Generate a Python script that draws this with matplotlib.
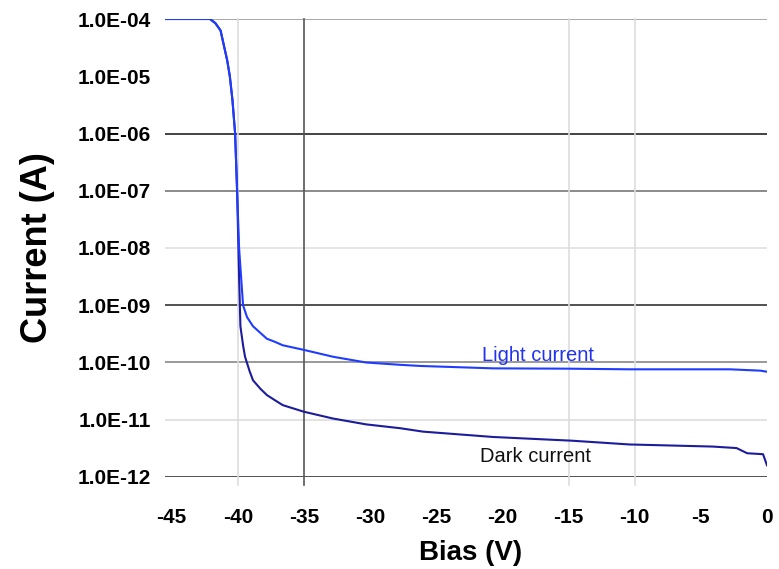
import matplotlib.pyplot as plt
import numpy as np

plt.rcParams['font.family'] = ['Liberation Sans', 'DejaVu Sans']

# Light current (bright blue curve)
light_bias = [-45.5, -42.1, -41.7, -41.3, -40.8, -40.6, -40.4, -40.2, -40.05, -39.9, -39.6,
              -39.3, -38.85, -38.3, -37.8, -37.2, -36.6, -35.0, -32.8, -30.3, -27.7, -26.2,
              -20.7, -15.0, -10.4, -2.8, -0.5, 0.0]
light_current = [1.0e-4, 1.0e-4, 8.5e-5, 6.3e-5, 1.9e-5, 1.0e-5, 3.8e-6, 1.0e-6, 1.0e-7, 1.0e-8, 1.0e-9,
                 6.2e-10, 4.3e-10, 3.3e-10, 2.6e-10, 2.3e-10, 2.0e-10, 1.66e-10, 1.26e-10, 1.0e-10, 9.1e-11, 8.7e-11,
                 7.9e-11, 7.8e-11, 7.6e-11, 7.6e-11, 7.2e-11, 6.9e-11]

# Dark current (navy curve)
dark_bias = [-45.5, -42.1, -41.7, -41.3, -40.8, -40.6, -40.4, -40.2, -40.05, -39.9,
             -39.8, -39.6, -39.45, -39.1, -38.85, -38.3, -37.8, -37.2, -36.6, -35.0,
             -32.8, -30.3, -27.7, -26.0, -20.7, -14.7, -10.4, -4.1, -2.3, -1.5,
             -0.3, 0.0]
dark_current = [1.0e-4, 1.0e-4, 8.5e-5, 6.3e-5, 1.9e-5, 1.0e-5, 3.8e-6, 1.0e-6, 1.0e-7, 3.2e-9,
                4.3e-10, 2.0e-10, 1.26e-10, 7.0e-11, 4.9e-11, 3.5e-11, 2.7e-11, 2.2e-11, 1.8e-11, 1.38e-11,
                1.05e-11, 8.3e-12, 7.1e-12, 6.2e-12, 5.0e-12, 4.3e-12, 3.7e-12, 3.4e-12, 3.2e-12, 2.6e-12,
                2.5e-12, 1.6e-12]

x_ticks = [-45, -40, -35, -30, -25, -20, -15, -10, -5, 0]
y_ticks = [1e-12, 1e-11, 1e-10, 1e-9, 1e-8, 1e-7, 1e-6, 1e-5, 1e-4]
y_tick_labels = ['1.0E-12', '1.0E-11', '1.0E-10', '1.0E-09', '1.0E-08',
                 '1.0E-07', '1.0E-06', '1.0E-05', '1.0E-04']

# gridline shades as they appear in the scan
h_grid_colors = ['#333333', '#dddddd', '#888888', '#333333', '#e0e0e0',
                 '#777777', '#222222', '#ffffff', '#999999']
v_grid = [-40, -35, -15, -10]
v_grid_colors = ['#dddddd', '#555555', '#dddddd', '#dddddd']

fig = plt.figure(figsize=(7.79, 5.69), dpi=100)
ax = fig.add_axes([0.2118, 0.1617, 0.7728, 0.8049])

for yv, c in zip(y_ticks, h_grid_colors):
    ax.axhline(yv, color=c, linewidth=1.2, zorder=1)
for xv, c in zip(v_grid, v_grid_colors):
    ax.axvline(xv, ymin=-0.018, ymax=1, color=c, linewidth=1.2, zorder=1, clip_on=False)

ax.plot(dark_bias, dark_current, color='#1c1c9c', linewidth=1.5, zorder=2)
ax.plot(light_bias, light_current, color='#1f3cff', linewidth=1.5, zorder=3)

ax.set_yscale('log')
ax.set_xlim(-45.5, 0)
ax.set_ylim(1e-12, 1e-4)
ax.set_xticks(x_ticks)
ax.set_xticklabels([str(v) for v in x_ticks])
ax.set_yticks(y_ticks)
ax.set_yticklabels(y_tick_labels)
ax.yaxis.set_minor_locator(plt.NullLocator())
ax.tick_params(axis='both', length=0, labelsize=15)
ax.tick_params(axis='y', pad=10)
ax.tick_params(axis='x', pad=22)
for lbl in ax.get_xticklabels() + ax.get_yticklabels():
    lbl.set_fontweight('bold')
for s in ax.spines.values():
    s.set_visible(False)

ax.set_xlabel('Bias (V)', fontsize=20, fontweight='bold')
ax.xaxis.set_label_coords(0.507, -0.138)
ax.set_ylabel('Current (A)', fontsize=26, fontweight='bold')
ax.yaxis.set_label_coords(-0.183, 0.5)

ax.text(-17.3, 1.35e-10, 'Light current', color='#2233ee', fontsize=14.5,
        ha='center', va='center')
ax.text(-17.5, 2.25e-12, 'Dark current', color='#111111', fontsize=14.5,
        ha='center', va='center')

fig.savefig('out.png', dpi=100, facecolor='white')
